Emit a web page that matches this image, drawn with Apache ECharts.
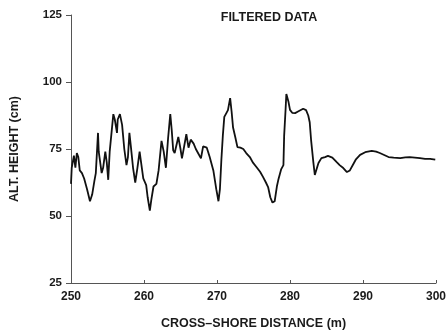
<!DOCTYPE html>
<html>
<head>
<meta charset="utf-8">
<script src="https://cdn.jsdelivr.net/npm/echarts@6/dist/echarts.min.js"></script>
<style>
html,body{margin:0;padding:0;background:#fff;}
#c{width:448px;height:331px;}
</style>
</head>
<body>
<div id="c"></div>
<script>
var titleText = 'FILTERED DATA';
var xName = 'CROSS–SHORE DISTANCE (m)';
var yName = 'ALT. HEIGHT (cm)';
var xTicks = [250, 260, 270, 280, 290, 300];
var yTicks = [25, 50, 75, 100, 125];

var distance = [
250.0,250.1,250.4,250.6,250.8,251.0,251.2,251.5,251.8,252.2,252.6,252.9,253.2,253.4,253.7,253.8,
254.2,254.4,254.7,254.9,255.1,255.3,255.8,256.0,256.3,256.4,256.7,257.0,257.3,257.6,257.8,258.0,
258.2,258.5,258.8,259.1,259.4,259.6,259.9,260.3,260.5,260.8,261.0,261.3,261.7,262.0,262.4,262.7,
263.0,263.3,263.6,263.8,264.0,264.2,264.7,265.0,265.2,265.5,265.8,266.1,266.4,266.8,267.1,267.4,
267.8,268.1,268.6,269.0,269.5,269.9,270.2,270.4,270.6,270.8,271.0,271.3,271.5,271.8,272.0,272.2,
272.5,272.8,273.2,273.6,274.0,274.5,274.9,275.4,275.9,276.3,276.7,277.0,277.3,277.6,277.9,278.2,
278.4,278.8,279.1,279.2,279.4,279.5,279.8,280.0,280.3,280.7,281.1,281.8,282.2,282.5,282.7,282.9,
283.2,283.4,283.7,283.9,284.3,284.8,285.2,285.8,286.4,286.8,287.3,287.8,288.2,288.7,289.0,289.6,
290.3,291.2,291.8,292.3,293.5,294.2,295.1,295.8,296.4,297.1,297.8,298.5,299.2,299.9
];
var height = [
62,68,72.5,68,73.5,72,67,66,64,60,55.5,58,63,66,81,74,
66,68,74,70,63.5,74,88,86,81,86,88,84,75,69,72,81,
76,68,62.5,68,74,70,64,61.5,57,52,56,61,62,67,78,74,
68,79,88,82,74.5,73.5,79.5,75,71.5,76,80.5,75.5,78.5,77,75,73.5,
71.5,76,75.5,72,67,60,55.5,60,71,80,87,88.5,89.5,94,89,83,
79.5,75.7,75.5,75,73.5,72,70,68.3,66.5,64.6,62.5,60.8,57,55,55.5,61,
63.5,67.5,69,80,90,95.5,92.5,89.6,88.5,88.4,89,90,89.5,87.5,85,78,
70,65.3,68,69.8,71.6,72,72.4,71.8,70.1,69,67.9,66.4,67,69.5,71,72.8,
73.8,74.3,74,73.5,72,71.8,71.6,71.9,72,71.8,71.6,71.3,71.3,71.0
];

var data = distance.map(function(d, i){ return [d, height[i]]; });
var font = 'Liberation Sans, Arial, Helvetica, sans-serif';

var chart = echarts.init(document.getElementById('c'), null, {renderer:'canvas'});
chart.setOption({
  animation: false,
  backgroundColor: '#ffffff',
  title: {
    text: titleText,
    left: 264, top: 6, textAlign: 'center',
    textStyle: {fontFamily: font, fontWeight: 'bold', fontSize: 12.5, color: '#1a1a1a'}
  },
  grid: {left: 71, right: 12, top: 15, bottom: 48, containLabel: false, outerBoundsMode: 'none'},
  xAxis: {
    type: 'value', min: xTicks[0], max: xTicks[xTicks.length-1], interval: 10,
    name: xName, nameLocation: 'middle', nameGap: 34,
    nameTextStyle: {fontFamily: font, fontWeight: 'bold', fontSize: 12.5, color: '#1a1a1a'},
    axisLine: {show: true, lineStyle: {color: '#555', width: 1}},
    axisTick: {show: true, inside: true, length: 3, lineStyle: {color: '#555'}},
    axisLabel: {fontFamily: font, fontWeight: 'bold', fontSize: 12, color: '#1a1a1a', margin: 8},
    splitLine: {show: false}
  },
  yAxis: {
    type: 'value', min: yTicks[0], max: yTicks[yTicks.length-1], interval: 25,
    name: yName, nameLocation: 'middle', nameGap: 50, nameRotate: 90,
    nameTextStyle: {fontFamily: font, fontWeight: 'bold', fontSize: 12.5, color: '#1a1a1a'},
    axisLine: {show: true, lineStyle: {color: '#555', width: 1}},
    axisTick: {show: true, inside: false, length: 5, lineStyle: {color: '#555'}},
    axisLabel: {fontFamily: font, fontWeight: 'bold', fontSize: 11.5, color: '#1a1a1a', margin: 9},
    splitLine: {show: false}
  },
  series: [{
    type: 'line',
    data: data,
    showSymbol: false,
    smooth: false,
    lineStyle: {color: '#111', width: 1.8},
    z: 3
  }]
});
</script>
</body>
</html>
